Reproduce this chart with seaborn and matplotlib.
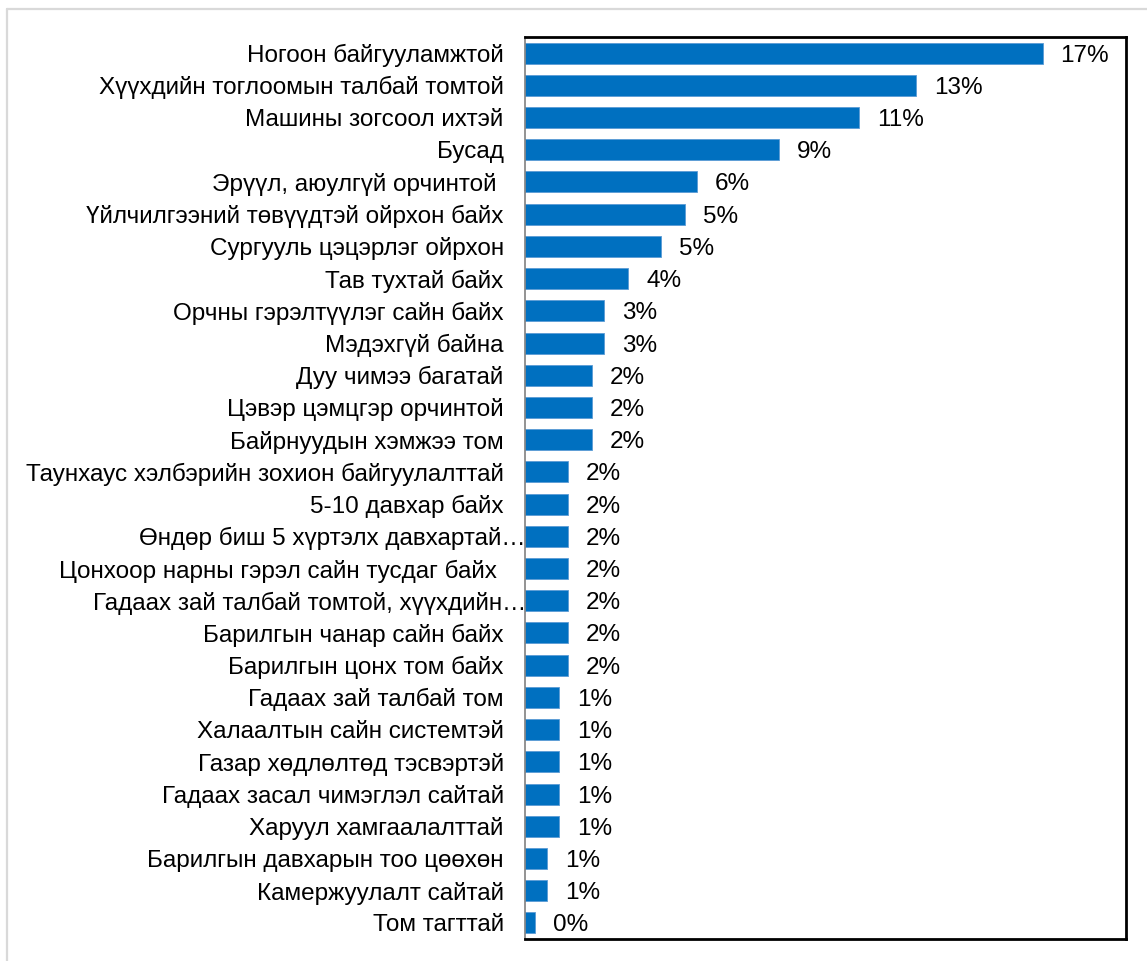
import matplotlib
matplotlib.use("Agg")
import matplotlib.pyplot as plt
import matplotlib.transforms as mtransforms
from matplotlib.lines import Line2D
import seaborn as sns
import pandas as pd

categories = [
    "Ногоон байгууламжтой",
    "Хүүхдийн тоглоомын талбай томтой",
    "Машины зогсоол ихтэй",
    "Бусад",
    "Эрүүл, аюулгүй орчинтой ",
    "Үйлчилгээний төвүүдтэй ойрхон байх",
    "Сургууль цэцэрлэг ойрхон",
    "Тав тухтай байх",
    "Орчны гэрэлтүүлэг сайн байх",
    "Мэдэхгүй байна",
    "Дуу чимээ багатай",
    "Цэвэр цэмцгэр орчинтой",
    "Байрнуудын хэмжээ том",
    "Таунхаус хэлбэрийн зохион байгуулалттай",
    "5-10 давхар байх",
    "Өндөр биш 5 хүртэлх давхартай…",
    "Цонхоор нарны гэрэл сайн тусдаг байх ",
    "Гадаах зай талбай томтой, хүүхдийн…",
    "Барилгын чанар сайн байх",
    "Барилгын цонх том байх",
    "Гадаах зай талбай том",
    "Халаалтын сайн системтэй",
    "Газар хөдлөлтөд тэсвэртэй",
    "Гадаах засал чимэглэл сайтай",
    "Харуул хамгаалалттай",
    "Барилгын давхарын тоо цөөхөн",
    "Камержуулалт сайтай",
    "Том тагттай",
]

# bar lengths (percent)
values = [17.0, 12.86, 10.98, 8.34, 5.65, 5.27, 4.47, 3.40, 2.60, 2.60,
          2.21, 2.21, 2.21, 1.42, 1.42, 1.42, 1.42, 1.42, 1.42, 1.42,
          1.13, 1.13, 1.13, 1.13, 1.13, 0.73, 0.73, 0.34]

# data labels as printed on the chart
value_labels = ["17%", "13%", "11%", "9%", "6%", "5%", "5%", "4%", "3%", "3%",
                "2%", "2%", "2%", "2%", "2%", "2%", "2%", "2%", "2%", "2%",
                "1%", "1%", "1%", "1%", "1%", "1%", "1%", "0%"]

df = pd.DataFrame({"category": categories, "value": values})

sns.set_theme(style="white")
plt.rcParams["font.family"] = ["Liberation Sans", "DejaVu Sans"]

FS = 17.5
W, H = 1147, 961
fig = plt.figure(figsize=(W / 100, H / 100), dpi=100)
ax = fig.add_axes([524.5 / W, 1 - 939 / H, (1126 - 524.5) / W, (939 - 37) / H])

sns.barplot(data=df, y="category", x="value", orient="h", color="#0070C0",
            saturation=1, width=0.65, edgecolor="#5B9BD5", linewidth=0.6, ax=ax)

ax.set_xlim(0, 17.0 * 601.5 / 518)
ax.set_ylim(len(categories) - 0.5, -0.5)
ax.set_xlabel("")
ax.set_ylabel("")
ax.set_xticks([])
ax.tick_params(axis="y", length=0, pad=15, labelsize=FS, labelcolor="black")

for lab in ax.get_yticklabels():
    if lab.get_text().endswith("…"):
        off = mtransforms.ScaledTranslation(16 / 72, 0, fig.dpi_scale_trans)
        lab.set_transform(lab.get_transform() + off)

texts = ax.bar_label(ax.containers[0], labels=value_labels, padding=13,
                     fontsize=FS, color="black")
for t in texts:
    t.set_verticalalignment("center_baseline")

for side in ["top", "right", "bottom"]:
    ax.spines[side].set_visible(True)
    ax.spines[side].set_color("black")
    ax.spines[side].set_linewidth(2)
ax.spines["left"].set_visible(True)
ax.spines["left"].set_color("#808080")
ax.spines["left"].set_linewidth(1.2)

# light outer frame (top and left)
fig.add_artist(Line2D([6.5 / W, 6.5 / W], [0, 1 - 8.5 / H], color="#D9D9D9",
                      linewidth=1.6, transform=fig.transFigure))
fig.add_artist(Line2D([6.5 / W, 1], [1 - 8.5 / H, 1 - 8.5 / H], color="#D9D9D9",
                      linewidth=1.6, transform=fig.transFigure))

fig.savefig("out.png", dpi=100, facecolor="white")
